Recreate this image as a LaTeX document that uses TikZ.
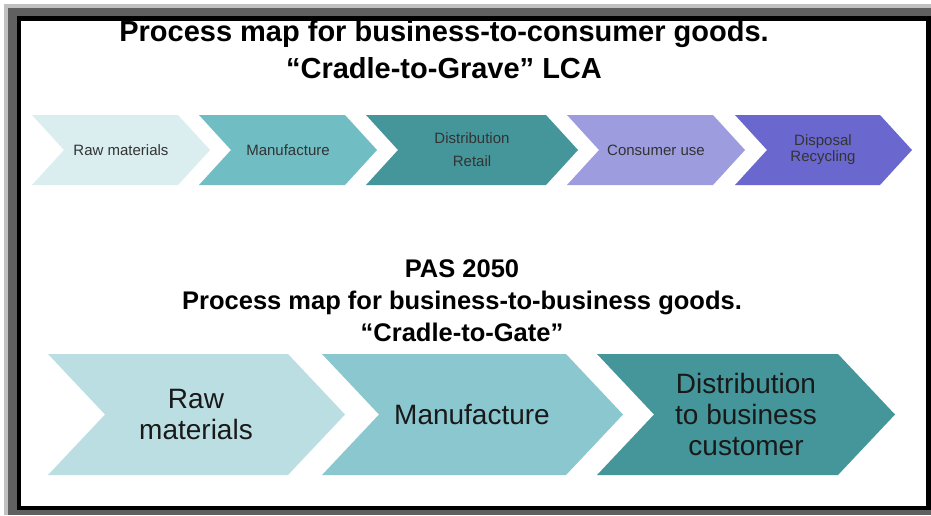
\documentclass[tikz,border=0pt]{standalone}
\usepackage{fontspec}
\setmainfont{Liberation Sans}
\definecolor{frameA}{HTML}{C0C0C0}
\definecolor{frameB}{HTML}{606060}
\definecolor{cRaw}{HTML}{DAEEF0}
\definecolor{cMan}{HTML}{70BDC3}
\definecolor{cDist}{HTML}{45969B}
\definecolor{cUse}{HTML}{9C9CDF}
\definecolor{cDisp}{HTML}{6A68CE}
\definecolor{bRaw}{HTML}{BBDEE2}
\definecolor{bMan}{HTML}{8AC7CF}
\begin{document}
\begin{tikzpicture}[x=1pt, y=-1pt, line join=round,
	small/.style={font=\fontsize{15}{17}\selectfont, text=black!80, align=center, inner sep=0pt},
	big/.style={font=\fontsize{28}{31}\selectfont, text=black!90, align=center, inner sep=0pt},
	heading/.style 2 args={font=\bfseries\fontsize{#1}{#2}\selectfont, align=center, inner sep=0pt, anchor=base}]
	% chevron: left x, tip x, top y, bottom y, depth
	\def\chev(#1,#2,#3,#4,#5)#6{\fill[#6] (#1,#3) -- ({#2-#5},#3) -- (#2,{(#3+#4)/2}) -- ({#2-#5},#4) -- (#1,#4) -- ({#1+#5},{(#3+#4)/2}) -- cycle;}
	\useasboundingbox (0,0) rectangle (931,515);
	% frame
	\fill[frameA] (4,4) rectangle (931,515);
	\fill[frameB] (8,8) rectangle (931,515);
	\fill[black] (17,16) rectangle (931,510);
	\fill[white] (21,21) rectangle (926,506);
	
	\node[heading={29}{37}] (title) at (444,78) {Process map for business-to-consumer goods.\\``Cradle-to-Grave'' LCA};
	
	\chev(32,210,115,185,32){cRaw}
	\chev(199,377,115,185,32){cMan}
	\chev(366,578,115,185,32){cDist}
	\chev(567,745,115,185,32){cUse}
	\chev(735,912,115,185,32){cDisp}
	\node[small] (raw) at (121,150) {Raw materials};
	\node[small] (man) at (288,150) {Manufacture};
	\node[small, font=\fontsize{15}{23}\selectfont] (dist) at (472,150) {Distribution\\Retail};
	\node[small] (use) at (656,150) {Consumer use};
	\node[small, font=\fontsize{15}{16}\selectfont] (disp) at (823,150) {Disposal\\Recycling};
	
	\node[heading={25.5}{32}] (pas) at (462,341) {PAS 2050\\Process map for business-to-business goods.\\``Cradle-to-Gate''};
	
	\chev(48,345,354,475,57){bRaw}
	\chev(322,623,354,475,57){bMan}
	\chev(597,895,354,475,57){cDist}
	\node[big] (braw) at (196,414) {Raw\\materials};
	\node[big] (bman) at (472,414) {Manufacture};
	\node[big] (bdist) at (746,414) {Distribution\\to business\\customer};
\end{tikzpicture}
\end{document}
